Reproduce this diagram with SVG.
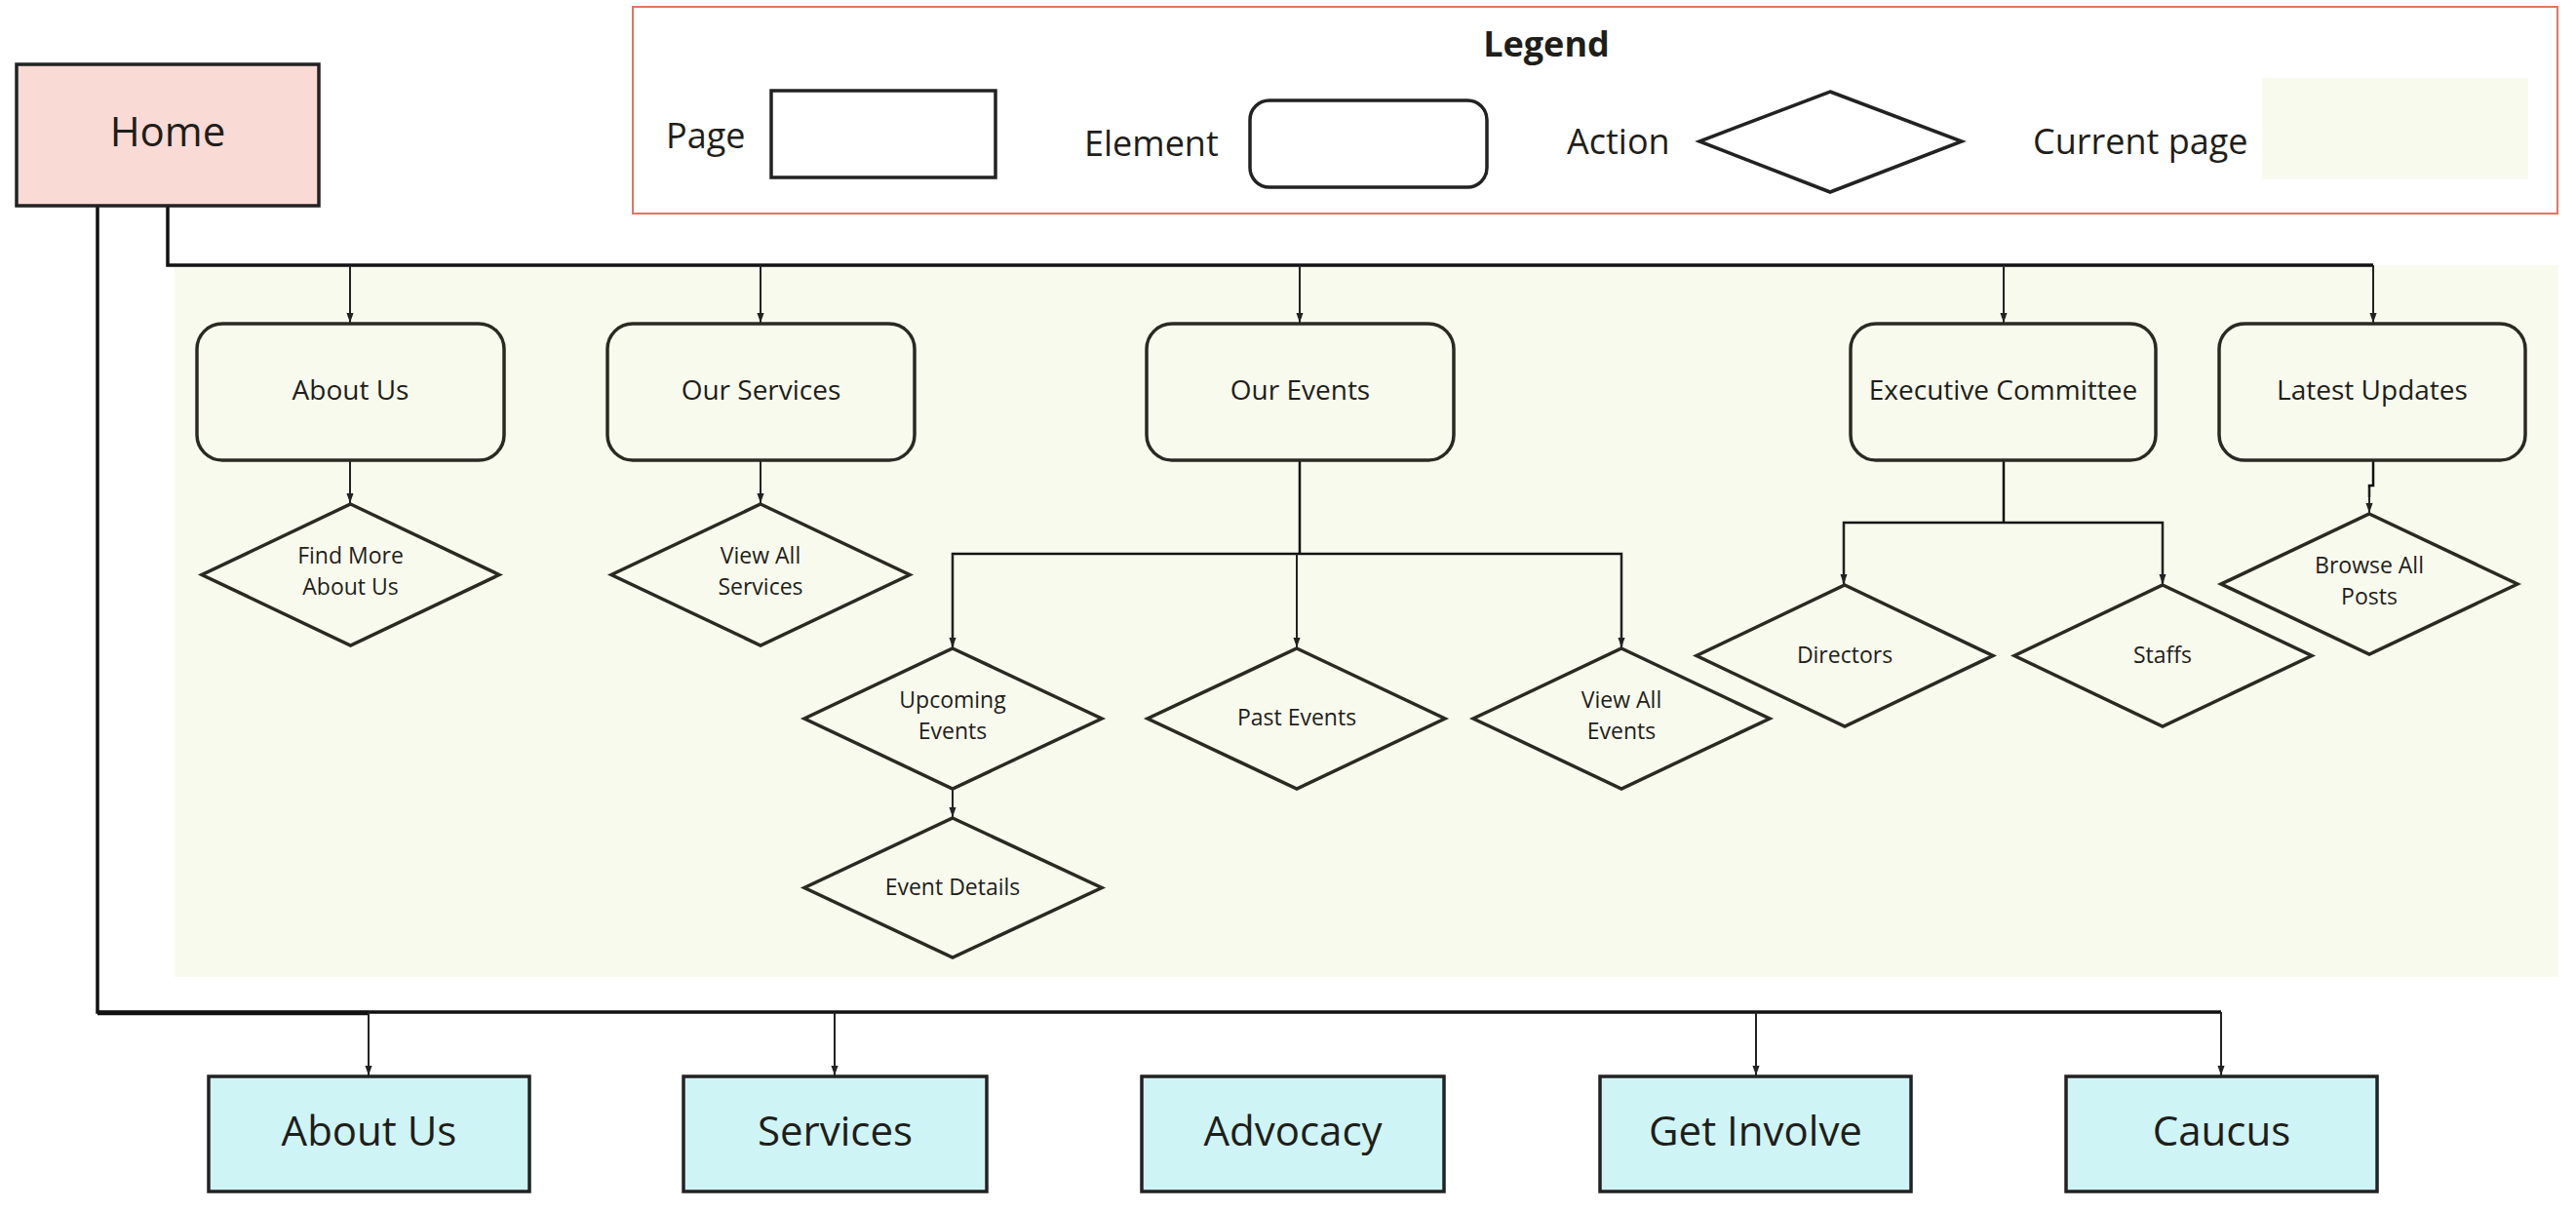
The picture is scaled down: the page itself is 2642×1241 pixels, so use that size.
<svg xmlns="http://www.w3.org/2000/svg" width="2642" height="1241" viewBox="0 0 2642 1241">
<defs>
<style>
text{font-family:"Open Sans","Noto Sans",sans-serif;fill:#1e1e1a;text-anchor:middle}
.page{fill:#ffffff;stroke:#222;stroke-width:3.5}
.home{fill:#fadad5;stroke:#222;stroke-width:3.5}
.nav{fill:#cff4f6;stroke:#222;stroke-width:3.5}
.el{fill:#f9faee;stroke:#2a2a22;stroke-width:3.5}
.act{fill:#f9faee;stroke:#2a2a22;stroke-width:3.5}
.big{font-size:42px}
.mid{font-size:28px}
.sm{font-size:23px}
.leg{font-size:36px;text-anchor:start}
.wire{fill:none;stroke:#111;stroke-width:2.5}
.thick{fill:none;stroke:#111;stroke-width:3.5}
.arr{fill:none;stroke:#222;stroke-width:2;marker-end:url(#ah)}
</style>
<marker id="ah" markerUnits="userSpaceOnUse" markerWidth="10" markerHeight="14" refX="5" refY="14" orient="auto-start-reverse" viewBox="0 0 10 14">
<path d="M0,0 L10,0 L5,14 z" fill="#222" transform="rotate(0)"/>
</marker>
<marker id="ahd" markerUnits="userSpaceOnUse" markerWidth="10" markerHeight="14" refX="14" refY="5" orient="auto" viewBox="0 0 14 10">
<path d="M0,0 L14,5 L0,10 z" fill="#222"/>
</marker>
</defs>
<rect width="2642" height="1241" fill="#ffffff"/>

<!-- current page background -->
<rect id="current-page-area" x="179" y="272" width="2445" height="730" fill="#f9faee"/>

<!-- legend -->
<g id="legend">
<rect x="649" y="7" width="1974" height="212" fill="#ffffff" stroke="#e07562" stroke-width="2"/>
<text x="1586" y="58" style="font-size:36px;font-weight:bold">Legend</text>
<text class="leg" x="683" y="152">Page</text>
<rect class="page" x="791" y="93" width="230" height="89"/>
<text class="leg" x="1112" y="160">Element</text>
<rect x="1282" y="103" width="243" height="89" rx="20" fill="#fff" stroke="#222" stroke-width="3.5"/>
<text class="leg" x="1607" y="158">Action</text>
<polygon points="1877,94 2012,145 1877,197 1743,145" fill="#fff" stroke="#222" stroke-width="3.5"/>
<text class="leg" x="2085" y="158">Current page</text>
<rect x="2320" y="80" width="273" height="104" fill="#f9faee"/>
</g>

<!-- connectors -->
<g id="connectors">
<defs>
<marker id="tri" markerUnits="userSpaceOnUse" markerWidth="10" markerHeight="14" refX="14" refY="5" orient="auto" viewBox="0 0 14 10">
<path d="M0,0 L14,5 L0,10 z" fill="#222"/>
</marker>
</defs>
<!-- Home to top elements -->
<polyline class="thick" points="172,211 172,272 2434,272"/>
<line x1="359" y1="272" x2="359" y2="331" stroke="#222" stroke-width="2" marker-end="url(#tri)"/>
<line x1="780" y1="272" x2="780" y2="331" stroke="#222" stroke-width="2" marker-end="url(#tri)"/>
<line x1="1333" y1="272" x2="1333" y2="331" stroke="#222" stroke-width="2" marker-end="url(#tri)"/>
<line x1="2055" y1="272" x2="2055" y2="331" stroke="#222" stroke-width="2" marker-end="url(#tri)"/>
<line x1="2434" y1="272" x2="2434" y2="331" stroke="#222" stroke-width="2" marker-end="url(#tri)"/>
<!-- elements to actions -->
<line x1="359" y1="472" x2="359" y2="516" stroke="#222" stroke-width="2" marker-end="url(#tri)"/>
<line x1="780" y1="472" x2="780" y2="516" stroke="#222" stroke-width="2" marker-end="url(#tri)"/>
<polyline class="wire" points="1333,472 1333,568"/>
<polyline class="wire" points="977,663 977,568 1663,568 1663,663"/>
<line x1="977" y1="568" x2="977" y2="664" stroke="#222" stroke-width="2" marker-end="url(#tri)"/>
<line x1="1330" y1="568" x2="1330" y2="664" stroke="#222" stroke-width="2" marker-end="url(#tri)"/>
<line x1="1663" y1="568" x2="1663" y2="664" stroke="#222" stroke-width="2" marker-end="url(#tri)"/>
<line x1="977" y1="809" x2="977" y2="838" stroke="#222" stroke-width="2" marker-end="url(#tri)"/>
<polyline class="wire" points="2055,472 2055,536"/>
<polyline class="wire" points="1891,598 1891,536 2218,536 2218,598"/>
<line x1="1891" y1="536" x2="1891" y2="599" stroke="#222" stroke-width="2" marker-end="url(#tri)"/>
<line x1="2218" y1="536" x2="2218" y2="599" stroke="#222" stroke-width="2" marker-end="url(#tri)"/>
<polyline class="wire" points="2434,472 2434,498 2430,498 2430,510"/>
<line x1="2430" y1="500" x2="2430" y2="526" stroke="#222" stroke-width="2" marker-end="url(#tri)"/>
<!-- Home to nav pages -->
<polyline class="thick" points="100,211 100,1038 2278,1038"/>
<line x1="100" y1="1039" x2="378" y2="1039" stroke="#111" stroke-width="4.5"/>
<line x1="378" y1="1038" x2="378" y2="1103" stroke="#222" stroke-width="2" marker-end="url(#tri)"/>
<line x1="856" y1="1038" x2="856" y2="1103" stroke="#222" stroke-width="2" marker-end="url(#tri)"/>
<line x1="1801" y1="1038" x2="1801" y2="1103" stroke="#222" stroke-width="2" marker-end="url(#tri)"/>
<line x1="2278" y1="1038" x2="2278" y2="1103" stroke="#222" stroke-width="2" marker-end="url(#tri)"/>
</g>

<!-- Home -->
<g id="home">
<rect class="home" x="17" y="66" width="310" height="145"/>
<text class="big" x="172" y="150">Home</text>
</g>

<!-- Elements -->
<g id="el-about-us">
<rect class="el" x="202" y="332" width="315" height="140" rx="26"/>
<text class="mid" x="359.5" y="410">About Us</text>
</g>
<g id="el-our-services">
<rect class="el" x="623" y="332" width="315" height="140" rx="26"/>
<text class="mid" x="780.5" y="410">Our Services</text>
</g>
<g id="el-our-events">
<rect class="el" x="1176" y="332" width="315" height="140" rx="26"/>
<text class="mid" x="1333.5" y="410">Our Events</text>
</g>
<g id="el-executive-committee">
<rect class="el" x="1898" y="332" width="313" height="140" rx="26"/>
<text class="mid" x="2054.5" y="410">Executive Committee</text>
</g>
<g id="el-latest-updates">
<rect class="el" x="2276" y="332" width="314" height="140" rx="26"/>
<text class="mid" x="2433" y="410">Latest Updates</text>
</g>

<!-- Actions -->
<g id="act-find-more">
<polygon class="act" points="359.5,517 512,589.5 359.5,662 207,589.5"/>
<text class="sm" x="359.5" y="578">Find More</text>
<text class="sm" x="359.5" y="610">About Us</text>
</g>
<g id="act-view-all-services">
<polygon class="act" points="780,517 933,589.5 780,662 627,589.5"/>
<text class="sm" x="780" y="578">View All</text>
<text class="sm" x="780" y="610">Services</text>
</g>
<g id="act-upcoming-events">
<polygon class="act" points="977,665 1130,737 977,809 825,737"/>
<text class="sm" x="977" y="726">Upcoming</text>
<text class="sm" x="977" y="758">Events</text>
</g>
<g id="act-past-events">
<polygon class="act" points="1330,665 1482,737 1330,809 1177,737"/>
<text class="sm" x="1330" y="744">Past Events</text>
</g>
<g id="act-view-all-events">
<polygon class="act" points="1663,665 1815,737 1663,809 1511,737"/>
<text class="sm" x="1663" y="726">View All</text>
<text class="sm" x="1663" y="758">Events</text>
</g>
<g id="act-event-details">
<polygon class="act" points="977,839 1130,910.5 977,982 825,910.5"/>
<text class="sm" x="977" y="918">Event Details</text>
</g>
<g id="act-directors">
<polygon class="act" points="1892,600 2044,672.5 1892,745 1740,672.5"/>
<text class="sm" x="1892" y="680">Directors</text>
</g>
<g id="act-staffs">
<polygon class="act" points="2218,600 2371,672.5 2218,745 2066,672.5"/>
<text class="sm" x="2218" y="680">Staffs</text>
</g>
<g id="act-browse-all-posts">
<polygon class="act" points="2430,527 2582,599 2430,671 2278,599"/>
<text class="sm" x="2430" y="588">Browse All</text>
<text class="sm" x="2430" y="620">Posts</text>
</g>

<!-- Nav pages -->
<g id="nav-about-us">
<rect class="nav" x="214" y="1104" width="329" height="118"/>
<text class="big" x="378.5" y="1175">About Us</text>
</g>
<g id="nav-services">
<rect class="nav" x="701" y="1104" width="311" height="118"/>
<text class="big" x="856.5" y="1175">Services</text>
</g>
<g id="nav-advocacy">
<rect class="nav" x="1171" y="1104" width="310" height="118"/>
<text class="big" x="1326" y="1175">Advocacy</text>
</g>
<g id="nav-get-involve">
<rect class="nav" x="1641" y="1104" width="319" height="118"/>
<text class="big" x="1800.5" y="1175">Get Involve</text>
</g>
<g id="nav-caucus">
<rect class="nav" x="2119" y="1104" width="319" height="118"/>
<text class="big" x="2278.5" y="1175">Caucus</text>
</g>
</svg>
